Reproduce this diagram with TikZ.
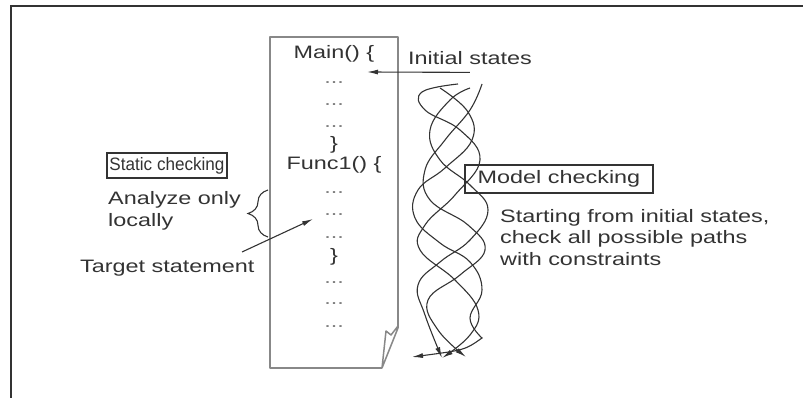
\documentclass[tikz,border=0pt]{standalone}
\usepackage{fontspec}
\setmainfont{Liberation Sans}[FakeStretch=1.3]
\newfontfamily\narrowfont{Liberation Sans}[FakeStretch=0.95]
\usetikzlibrary{arrows.meta,decorations.pathreplacing}
\definecolor{ink}{HTML}{333333}
\definecolor{sheet}{HTML}{888888}
\tikzset{txt/.style={inner sep=0pt, text=ink, font=\fontsize{18}{21.5}\selectfont}}
\tikzset{dotrow/.style={txt, text=gray}}
\tikzset{labelbox/.style={draw=ink, line width=1.2pt, txt, inner sep=0pt}}
\tikzset{sheetline/.style={draw=sheet, line width=1.5pt, line join=round}}
\tikzset{pointer/.style={draw=ink, line width=1.1pt, -{Latex[length=11pt,width=5pt]}}}
\tikzset{wave/.style={draw=ink, line width=1.1pt, -{Latex[length=11pt,width=5pt]}}}

\begin{document}
\begin{tikzpicture}[x=1pt, y=-1pt]
\useasboundingbox (0,0) rectangle (803,398);
% frame
\draw[ink, line width=1.6pt] (803,6) -- (11,6) -- (11,398);
% sheet of code
\draw[sheetline] (398,328) -- (398,37) -- (270,37) -- (270,368) -- (382,368);
\draw[sheetline] (398,328) -- (382,368) -- (386,331) -- (391,335) -- (398,326);
\node[txt, anchor=base] (main) at (334,59) {Main() \{};
\node[txt, anchor=base] (mainEnd) at (334,150) {\}};
\node[txt, anchor=base] (func) at (334,170) {Func1() \{};
\node[txt, anchor=base] (funcEnd) at (334,261) {\}};
\foreach \y [count=\i] in {84,106,128,194,216,238,283,304,327}
  \node[dotrow, anchor=base] (dots\i) at (334,\y) {...};
% initial states
\node[txt, anchor=base west] (init) at (408,65) {Initial states};
\coordinate (mainEntry) at (367,72);
\draw[pointer] ([yshift=-7pt]init.south) -- (mainEntry);
% static checking
\node[labelbox, font=\narrowfont\fontsize{18}{21}\selectfont, minimum width=120pt, minimum height=25pt] (static) at (167,165.5) {Static checking};
\node[txt, anchor=base west, align=left] (analyze) at (108,226) {Analyze only\\locally};
\draw[ink, line width=1.1pt, decorate, decoration={brace, amplitude=20pt}] (268,237) -- (268,190);
\node[txt, anchor=base west] (target) at (80,272) {Target statement};
\coordinate (targetTail) at (242,252);
\coordinate (targetTip) at (313,219);
\draw[pointer] (targetTail) -- (targetTip);
% model checking
\node[labelbox, minimum width=188pt, minimum height=28pt] (model) at (559,179) {Model checking};
\node[txt, anchor=base west, align=left] (paths) at (500,265) {Starting from initial states,\\check all possible paths\\with constraints};
% paths
\draw[wave] plot[smooth, tension=0.7] coordinates {(458,84) (422,92) (425,110) (460,130) (480,160) (455,195) (425,225) (420,250) (455,280) (478,310) (470,335) (442,358)};
\draw[wave] plot[smooth, tension=0.7] coordinates {(482,84) (470,110) (445,140) (425,170) (430,200) (468,225) (485,250) (460,275) (428,300) (438,330) (466,357)};
\draw[wave] plot[smooth, tension=0.7] coordinates {(470,88) (450,100) (430,130) (440,160) (470,185) (488,210) (470,240) (440,262) (418,285) (425,315) (442,358)};
\draw[wave] plot[smooth, tension=0.7] coordinates {(440,88) (468,112) (472,140) (445,168) (418,190) (415,218) (440,243) (470,262) (482,290) (470,318) (482,338)}
  .. controls (465,350) .. (412,357);
\end{tikzpicture}
\end{document}
